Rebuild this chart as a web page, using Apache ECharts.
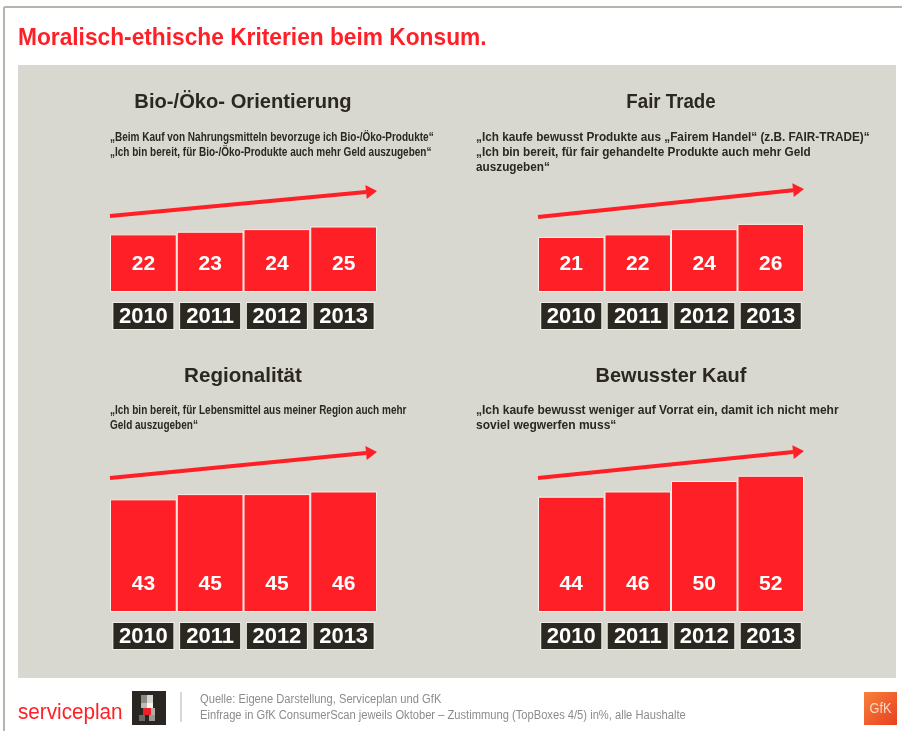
<!DOCTYPE html>
<html>
<head>
<meta charset="utf-8">
<script src="https://cdn.jsdelivr.net/npm/echarts@6/dist/echarts.min.js"></script>
<style>
html,body{margin:0;padding:0;background:#fff;}
#chart{width:902px;height:731px;}
</style>
</head>
<body>
<div id="chart"></div>
<script>
// ---- data ----
const years = ['2010', '2011', '2012', '2013'];
const bioValues = [22, 23, 24, 25];
const fairTradeValues = [21, 22, 24, 26];
const regionalValues = [43, 45, 45, 46];
const bewusstValues = [44, 46, 50, 52];

const panelTitles = ['Bio-/Öko- Orientierung', 'Fair Trade', 'Regionalität', 'Bewusster Kauf'];
const panelTexts = [
  '„Beim Kauf von Nahrungsmitteln bevorzuge ich Bio-/Öko-Produkte“\n„Ich bin bereit, für Bio-/Öko-Produkte auch mehr Geld auszugeben“',
  '„Ich kaufe bewusst Produkte aus „Fairem Handel“ (z.B. FAIR-TRADE)“\n„Ich bin bereit, für fair gehandelte Produkte auch mehr Geld\nauszugeben“',
  '„Ich bin bereit, für Lebensmittel aus meiner Region auch mehr\nGeld auszugeben“',
  '„Ich kaufe bewusst weniger auf Vorrat ein, damit ich nicht mehr\nsoviel wegwerfen muss“'
];
const mainTitle = 'Moralisch-ethische Kriterien beim Konsum.';
const sourceLines = ['Quelle: Eigene Darstellung, Serviceplan und GfK',
  'Einfrage in GfK ConsumerScan jeweils Oktober – Zustimmung (TopBoxes 4/5) in%, alle Haushalte'];

// ---- layout ----
const RED = '#fe2026';
const DARK = '#2b2721';
const PANEL_BG = '#d9d8d0';
const FONT = '"Liberation Sans", Arial, sans-serif';
const K = 2.62; // px per unit
const cols = [{left: 110, width: 267}, {left: 538, width: 266}];
const rows = [{bottom: 292, max: 30}, {bottom: 612, max: 60}];
const seriesData = [bioValues, fairTradeValues, regionalValues, bewusstValues];

const grids = [], xAxes = [], yAxes = [], series = [];
for (let i = 0; i < 4; i++) {
  const c = cols[i % 2], r = rows[Math.floor(i / 2)];
  const h = r.max * K;
  grids.push({left: c.left, width: c.width, top: r.bottom - h, height: h, containLabel: false});
  xAxes.push({
    type: 'category', gridIndex: i, data: years,
    axisLine: {show: false}, axisTick: {show: false},
    axisLabel: {
      margin: 11, color: '#fff', fontFamily: FONT, fontWeight: 'bold', fontSize: 22,
      backgroundColor: DARK, borderColor: '#eeece6', borderWidth: 1,
      width: 60, height: 26, lineHeight: 27, align: 'center', verticalAlign: 'top', padding: 0
    }
  });
  yAxes.push({type: 'value', gridIndex: i, min: 0, max: r.max, show: false, splitLine: {show: false}});
  series.push({
    type: 'bar', xAxisIndex: i, yAxisIndex: i, data: seriesData[i],
    barCategoryGap: '0%',
    itemStyle: {color: RED, borderColor: '#f3f1eb', borderWidth: 1},
    label: {show: true, position: 'insideBottom', distance: 17, color: '#fff',
      fontFamily: FONT, fontWeight: 'bold', fontSize: 21},
    silent: true, animation: false
  });
}

function txt(x, y, text, font, fill, sx, extra) {
  return Object.assign({type: 'text', x, y, scaleX: sx,
    style: Object.assign({text, font, fill}, extra || {})});
}

// decorative elements
const graphics = [
  {type: 'line', shape: {x1: 4, y1: 7, x2: 902, y2: 7}, style: {stroke: '#b5b5ad', lineWidth: 2}},
  {type: 'line', shape: {x1: 4, y1: 7, x2: 4, y2: 731}, style: {stroke: '#b5b5ad', lineWidth: 2}},
  {type: 'rect', shape: {x: 18, y: 65, width: 878, height: 613}, style: {fill: PANEL_BG}, z: -10},
  txt(18, 38, mainTitle, 'bold 24px ' + FONT, RED, 0.947, {textVerticalAlign: 'middle'})
];
const titleCenters = [[243, 102], [671, 102], [243, 376], [671, 376]];
const titleScale = [0.96, 0.89, 0.98, 0.95];
const textPos = [[110, 130], [476, 130], [110, 403], [476, 403]];
const textScale = [0.77, 0.905, 0.77, 0.925];
const arrows = [[110, 216, 377, 191], [538, 217, 804, 189], [110, 478, 377, 452], [538, 478, 804, 451]];
for (let i = 0; i < 4; i++) {
  graphics.push(txt(titleCenters[i][0], titleCenters[i][1], panelTitles[i], 'bold 21px ' + FONT, DARK, titleScale[i],
    {textAlign: 'center', textVerticalAlign: 'middle'}));
  graphics.push(txt(textPos[i][0], textPos[i][1], panelTexts[i], 'bold 13px ' + FONT, DARK, textScale[i],
    {lineHeight: 15, textVerticalAlign: 'top'}));
  const [x1, y1, x2, y2] = arrows[i];
  const ang = Math.atan2(y2 - y1, x2 - x1);
  const hl = 11, hw = 7;
  const bx = x2 - hl * Math.cos(ang), by = y2 - hl * Math.sin(ang);
  graphics.push({type: 'line', shape: {x1, y1, x2: bx, y2: by}, style: {stroke: RED, lineWidth: 4}});
  graphics.push({type: 'polygon', shape: {points: [[x2, y2],
      [bx + hw * Math.sin(ang), by - hw * Math.cos(ang)],
      [bx - hw * Math.sin(ang), by + hw * Math.cos(ang)]]}, style: {fill: RED}});
}
// footer
graphics.push(txt(18, 713, 'serviceplan', '22px ' + FONT, RED, 0.94, {textVerticalAlign: 'middle'}));
graphics.push({type: 'rect', shape: {x: 132, y: 691, width: 34, height: 34}, style: {fill: '#2a2622'}});
[[141, 695, 6, 8, '#8c8a84'], [147, 695, 6, 8, '#d8d6d0'], [141, 703, 6, 5, '#bdbbb5'], [147, 703, 6, 5, '#f4f4f0'],
 [143, 708, 8, 7, '#f0202a'], [151, 708, 4, 7, '#b0aea8'], [139, 715, 6, 6, '#6c6a64'], [149, 715, 6, 6, '#9a9892']]
  .forEach(([x, y, w, h, f]) => graphics.push({type: 'rect', shape: {x, y, width: w, height: h}, style: {fill: f}}));
graphics.push({type: 'line', shape: {x1: 181, y1: 692, x2: 181, y2: 722}, style: {stroke: '#b0b0b0', lineWidth: 1}});
graphics.push(txt(200, 700, sourceLines[0], '12px ' + FONT, '#8c8c8c', 0.93, {textVerticalAlign: 'middle'}));
graphics.push(txt(200, 716, sourceLines[1], '12px ' + FONT, '#8c8c8c', 0.93, {textVerticalAlign: 'middle'}));
graphics.push({type: 'rect', shape: {x: 864, y: 692, width: 33, height: 33},
  style: {fill: new echarts.graphic.LinearGradient(0, 0, 1, 1, [{offset: 0, color: '#f7813c'}, {offset: 1, color: '#e8401e'}])}});
graphics.push(txt(880.5, 709, 'GfK', '15px ' + FONT, '#fbd9c8', 0.85, {textAlign: 'center', textVerticalAlign: 'middle'}));

const chart = echarts.init(document.getElementById('chart'), null, {renderer: 'canvas'});
chart.setOption({
  animation: false,
  backgroundColor: '#fff',
  grid: grids, xAxis: xAxes, yAxis: yAxes, series: series,
  graphic: graphics
});
</script>
</body>
</html>
